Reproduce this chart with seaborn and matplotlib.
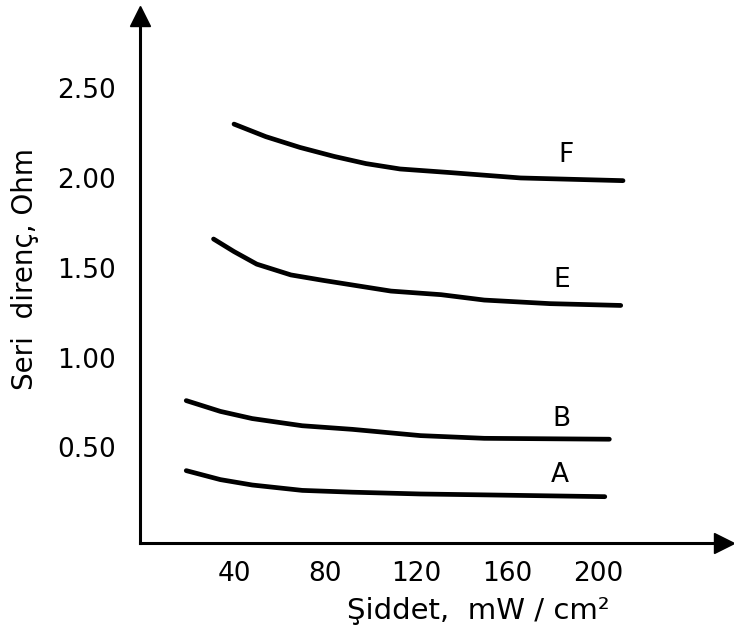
import matplotlib
matplotlib.use("Agg")
import matplotlib.pyplot as plt
import seaborn as sns
import pandas as pd

# ---- data ----
F_x = [40, 54, 69, 84, 98, 113, 135, 166, 211]
F_y = [2.30, 2.23, 2.17, 2.12, 2.08, 2.05, 2.03, 2.00, 1.985]
E_x = [31, 40, 50, 65, 79, 94, 109, 131, 150, 179, 210]
E_y = [1.66, 1.59, 1.52, 1.46, 1.43, 1.40, 1.37, 1.35, 1.32, 1.30, 1.29]
B_x = [19, 34, 48, 70, 92, 122, 150, 205]
B_y = [0.76, 0.70, 0.66, 0.62, 0.60, 0.565, 0.55, 0.545]
A_x = [19, 34, 48, 70, 92, 122, 150, 203]
A_y = [0.37, 0.32, 0.29, 0.26, 0.25, 0.24, 0.235, 0.225]

series_names = ["A", "B", "E", "F"]
label_x = [183, 184, 184, 186]
label_y = [0.345, 0.66, 1.43, 2.13]

x_ticks = [40, 80, 120, 160, 200]
x_ticklabels = ["40", "80", "120", "160", "200"]
y_ticks = [0.5, 1.0, 1.5, 2.0, 2.5]
y_ticklabels = ["0.50", "1.00", "1.50", "2.00", "2.50"]

x_label = "Şiddet,  mW / cm²"
y_label = "Seri  direnç, Ohm"

frames = []
for name, xs, ys in [("A", A_x, A_y), ("B", B_x, B_y), ("E", E_x, E_y), ("F", F_x, F_y)]:
    frames.append(pd.DataFrame({"x": xs, "y": ys, "series": name}))
df = pd.concat(frames, ignore_index=True)

sns.set_style("white")
plt.rcParams["font.family"] = ["DejaVu Sans"]
plt.rcParams["text.color"] = "black"
plt.rcParams["axes.labelcolor"] = "black"

W, H = 734, 634
fig = plt.figure(figsize=(W / 100, H / 100), dpi=100)
left_px, right_px, bottom_px, top_px = 139.5, 724, 543, 16
ax = fig.add_axes([left_px / W, (H - bottom_px) / H,
                   (right_px - left_px) / W, (bottom_px - top_px) / H])

sns.lineplot(data=df, x="x", y="y", units="series", estimator=None,
             color="black", linewidth=3.4, sort=False, ax=ax, legend=False)

for n, lx, ly in zip(series_names, label_x, label_y):
    ax.text(lx, ly, n, fontsize=19, ha="center", va="center", color="black")

ax.set_xlim(-1.55, 255.4)
ax.set_ylim(-0.033, 2.902)

ax.set_xticks(x_ticks)
ax.set_xticklabels(x_ticklabels)
ax.set_yticks(y_ticks)
ax.set_yticklabels(y_ticklabels)
ax.tick_params(axis="both", direction="in", length=12, width=1.6,
               labelsize=19, colors="black")
ax.tick_params(axis="x", pad=13)
ax.tick_params(axis="y", pad=17)

for s in ["top", "right"]:
    ax.spines[s].set_visible(False)
for s in ["left", "bottom"]:
    ax.spines[s].set_linewidth(2.2)
    ax.spines[s].set_color("black")

# arrow heads at the ends of the axes
ax.plot(1, 0, ">", color="black", markersize=15, transform=ax.transAxes, clip_on=False)
ax.plot(0, 1, "^", color="black", markersize=15, transform=ax.transAxes, clip_on=False)

ax.set_xlabel(x_label, fontsize=21, color="black")
ax.set_ylabel(y_label, fontsize=20, color="black")
ax.xaxis.set_label_coords(0.579, -0.103)
ax.yaxis.set_label_coords(-0.172, 0.52)

fig.savefig("out.png", dpi=100, facecolor="white")
